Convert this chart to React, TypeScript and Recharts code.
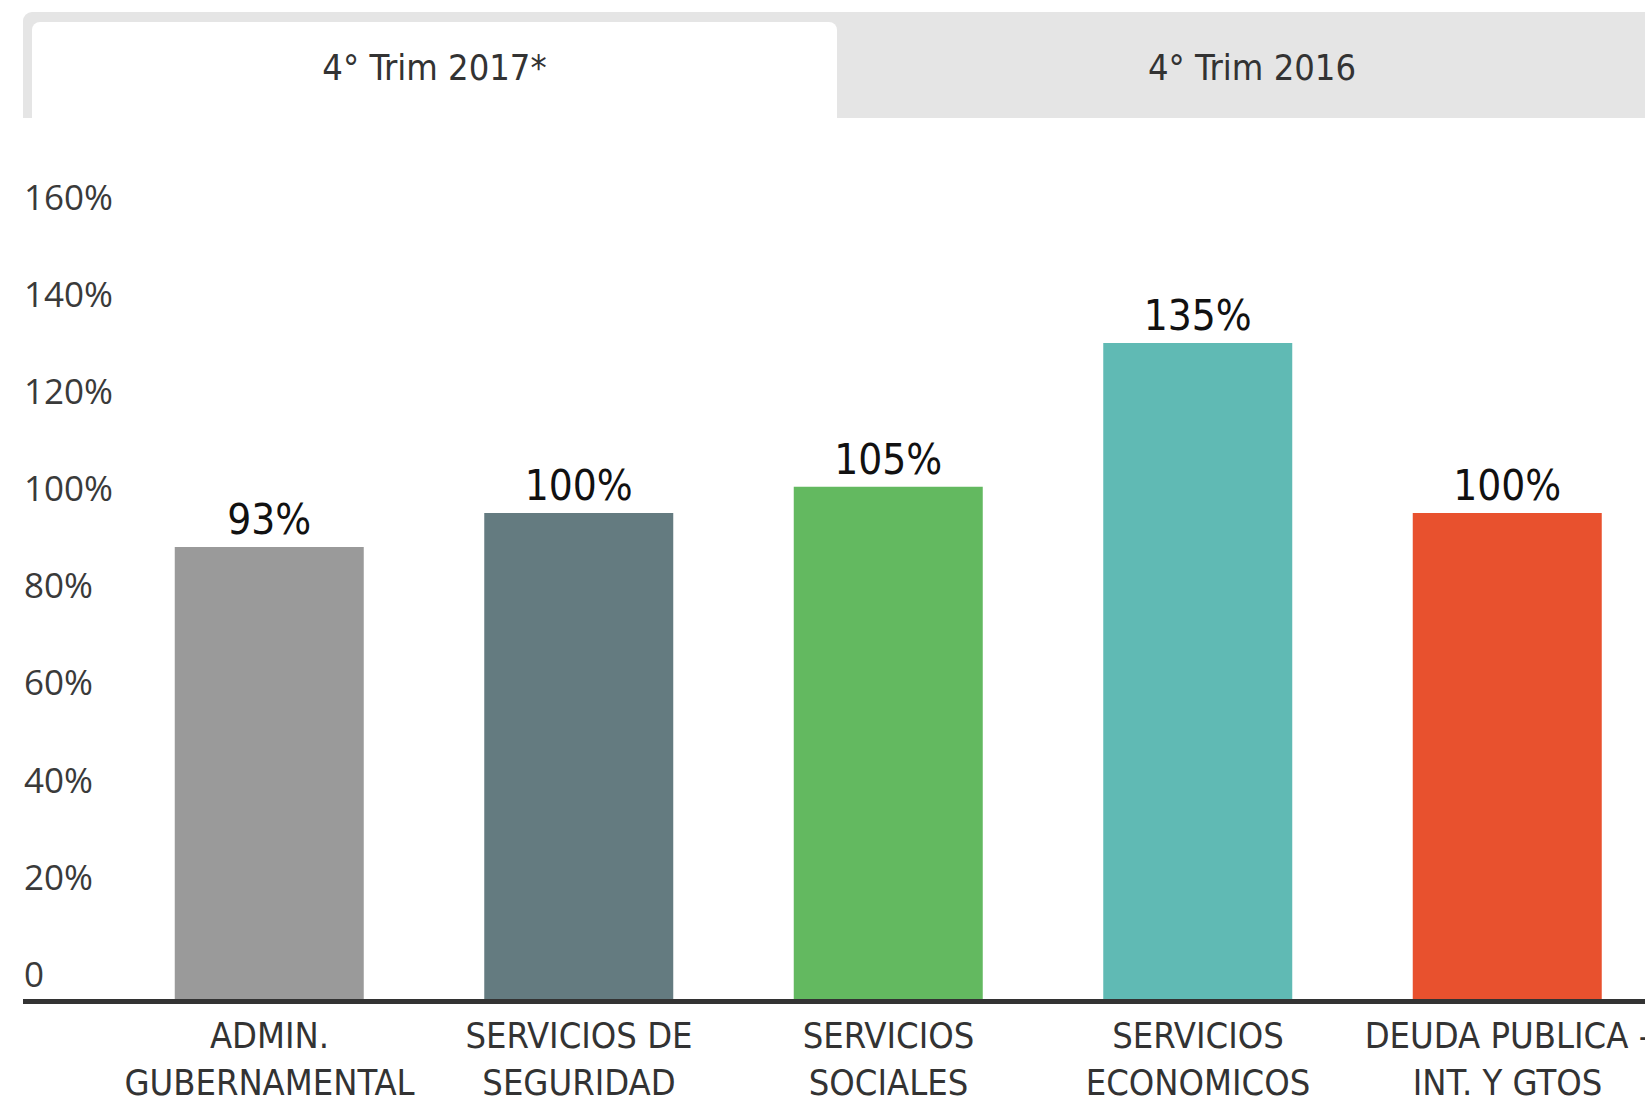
import React from "react";
import {
  BarChart,
  Bar,
  XAxis,
  YAxis,
  Cell,
  LabelList,
  ReferenceLine,
} from "recharts";

const categories = [
  "ADMIN.\nGUBERNAMENTAL",
  "SERVICIOS DE\nSEGURIDAD",
  "SERVICIOS\nSOCIALES",
  "SERVICIOS\nECONOMICOS",
  "DEUDA PUBLICA -\nINT. Y GTOS",
];
const values = [93, 100, 105.4, 135, 100];
const barColors = ["#9a9a9a", "#647b80", "#63b960", "#60bab4", "#e8512e"];
const yTicks = [0, 20, 40, 60, 80, 100, 120, 140, 160];
const tabLabels = ["4° Trim 2017*", "4° Trim 2016"];

const narrow =
  "'Liberation Sans Narrow', 'DejaVu Sans Condensed', 'Roboto Condensed', sans-serif";
const sans = "'Open Sans', sans-serif";

const data = categories.map((name, i) => ({ name, value: values[i] }));

const CategoryTick = ({ x, y, payload }: any) => {
  const lines = String(payload.value).split("\n");
  return (
    <text textAnchor="middle" fill="#333" fontFamily={narrow} fontSize={36}>
      {lines.map((line, i) => (
        <tspan key={i} x={x} y={y + 49 + i * 47}>
          {line}
        </tspan>
      ))}
    </text>
  );
};

const PercentTick = ({ y, payload }: any) => (
  <text x={24} y={y - 12} fill="#3a3a3a" fontFamily={sans} fontSize={35}>
    {payload.value === 0 ? "0" : `${payload.value}%`}
  </text>
);

const ValueLabel = ({ x, y, width, value }: any) => (
  <text
    x={x + width / 2}
    y={y - 13}
    textAnchor="middle"
    fill="#111"
    fontFamily={narrow}
    fontSize={42}
  >
    {Math.round(value)}%
  </text>
);

const AxisBar = (props: any) => (
  <line
    x1={props.x1}
    x2={props.x2}
    y1={props.y1 + 2.5}
    y2={props.y2 + 2.5}
    stroke="#333"
    strokeWidth={5}
  />
);

const tabText: React.CSSProperties = {
  position: "absolute",
  top: 22,
  height: 96,
  display: "flex",
  alignItems: "center",
  justifyContent: "center",
  boxSizing: "border-box",
  paddingBottom: 6,
  fontFamily: narrow,
  fontSize: 36,
  color: "#333",
};

export default function App() {
  return (
    <div
      style={{
        position: "fixed",
        left: 0,
        top: 0,
        width: 1645,
        height: 1102,
        overflow: "hidden",
        background: "#fff",
      }}
    >
      {/* tab strip */}
      <div
        style={{
          position: "absolute",
          left: 23,
          top: 12,
          width: 1660,
          height: 106,
          background: "#e5e5e5",
          borderTopLeftRadius: 9,
        }}
      />
      <div
        style={{
          ...tabText,
          left: 32,
          width: 805,
          background: "#fff",
          borderRadius: "8px 8px 0 0",
        }}
      >
        {tabLabels[0]}
      </div>
      <div style={{ ...tabText, left: 837, width: 830 }}>{tabLabels[1]}</div>

      <div style={{ position: "absolute", left: 0, top: 0 }}>
        <BarChart
          width={1680}
          height={1102}
          data={data}
          margin={{ top: 221.5, right: 17.75, bottom: 3, left: 22 }}
        >
          <XAxis
            dataKey="name"
            type="category"
            height={100}
            padding={{ left: 91.75, right: 0 }}
            axisLine={false}
            tickLine={false}
            tickSize={0}
            tickMargin={0}
            interval={0}
            tick={<CategoryTick />}
          />
          <YAxis
            type="number"
            domain={[0, 160]}
            ticks={yTicks}
            width={1}
            axisLine={false}
            tickLine={false}
            interval={0}
            tick={<PercentTick />}
          />
          <Bar dataKey="value" barSize={189} isAnimationActive={false}>
            {data.map((d, i) => (
              <Cell key={d.name} fill={barColors[i]} />
            ))}
            <LabelList dataKey="value" content={<ValueLabel />} />
          </Bar>
          <ReferenceLine y={0} shape={<AxisBar />} ifOverflow="visible" />
        </BarChart>
      </div>
    </div>
  );
}
